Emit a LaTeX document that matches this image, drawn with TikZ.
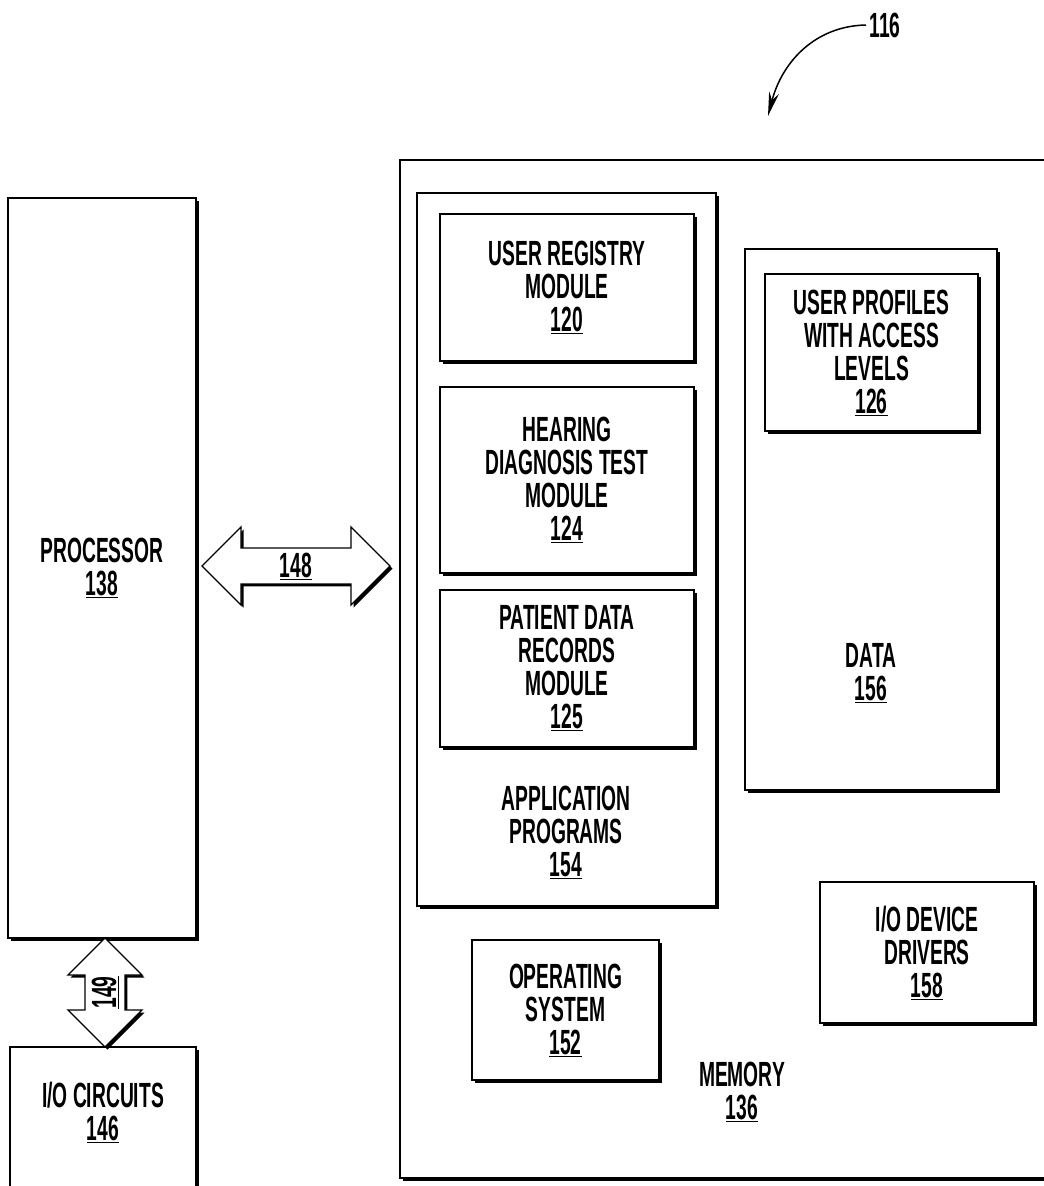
\documentclass[tikz,border=0pt]{standalone}
\usepackage{fontspec}
\setmainfont{Liberation Sans}[FakeStretch=0.55]
\usetikzlibrary{shapes.arrows,shadows,arrows.meta}

\tikzset{
  blk/.style={draw, fill=white, line width=1.3pt, inner sep=0pt,
    drop shadow={shadow xshift=2.5pt, shadow yshift=-2.5pt, opacity=1, fill=black}},
  txt/.style={align=center, font=\fontsize{35}{33}\selectfont\bfseries},
  bus/.style={blk, txt, double arrow, double arrow tip angle=90}
}

\begin{document}
\begin{tikzpicture}[x=1pt,y=-1pt]
    \useasboundingbox (0,0) rectangle (1044,1186);
    \clip (0,0) rectangle (1044,1186);

    % left side
    \node [blk,txt,minimum width=188,minimum height=740] (proc) at (102,568)
        {PROCESSOR\\\underline{138}};
    \node [blk,minimum width=186,minimum height=170] (io) at (103,1132) {};
    \node [txt] (iotxt) at (103,1112) {I/O CIRCUITS\\\underline{146}};

    % memory and its contents
    \node [blk,minimum width=680,minimum height=1018] (mem) at (740,669) {};
    \node [txt] (memtxt) at (742,1092) {MEMORY\\\underline{136}};

    \node [blk,minimum width=299,minimum height=713] (app) at (566.5,549.5) {};
    \node [txt] (apptxt) at (566,832) {APPLICATION\\PROGRAMS\\\underline{154}};
    \node [blk,txt,minimum width=254,minimum height=147] (ureg) at (567,287.5)
        {USER REGISTRY\\MODULE\\\underline{120}};
    \node [blk,txt,minimum width=254,minimum height=186] (hear) at (567,480)
        {HEARING\\DIAGNOSIS TEST\\MODULE\\\underline{124}};
    \node [blk,txt,minimum width=254,minimum height=157] (pdr) at (567,668.5)
        {PATIENT DATA\\RECORDS\\MODULE\\\underline{125}};

    \node [blk,minimum width=252,minimum height=541] (data) at (871,519.5) {};
    \node [txt] (datatxt) at (871,673) {DATA\\\underline{156}};
    \node [blk,txt,minimum width=213,minimum height=157] (uprof) at (871.5,352.5)
        {USER PROFILES\\WITH ACCESS\\LEVELS\\\underline{126}};

    \node [blk,txt,minimum width=187,minimum height=140] (os) at (565.5,1010)
        {OPERATING\\SYSTEM\\\underline{152}};
    \node [blk,txt,minimum width=214,minimum height=141] (iodd) at (927,952.5)
        {I/O DEVICE\\DRIVERS\\\underline{158}};

    % buses
    \node [bus,minimum height=188,minimum width=78,double arrow head extend=16.5] (b148)
        at (296,566) {\underline{148}};
    \node [bus,rotate=90,minimum height=109,minimum width=74,double arrow head extend=12] (b149)
        at (105,992.5) {\underline{149}};

    % reference arrow
    \node [txt,anchor=west] (r116) at (866,25) {116};
    \draw [line width=1.5pt,-{Stealth[length=24pt,width=10pt]}] (r116.west)
        .. controls (815,26) and (782,62) .. (768,116);
\end{tikzpicture}
\end{document}
